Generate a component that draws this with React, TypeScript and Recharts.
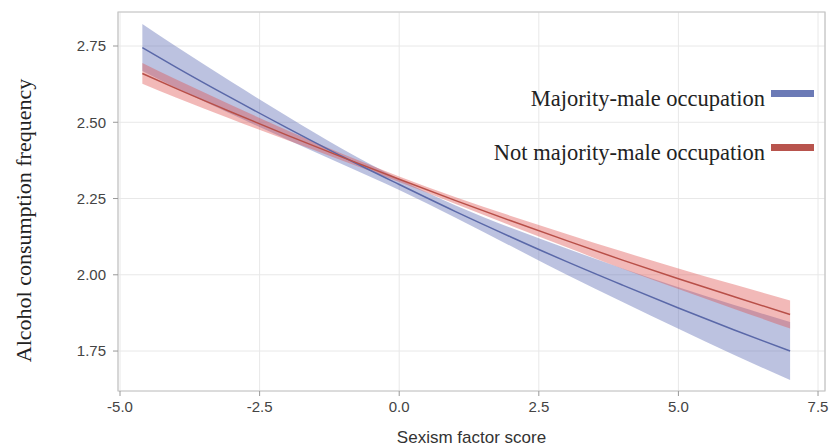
import React from "react";
import {
  Area,
  CartesianGrid,
  ComposedChart,
  Label,
  Line,
  ReferenceArea,
  XAxis,
  YAxis,
} from "recharts";

// sexism factor score sampled along the fitted curves
const scores = [-4.6, -4, -3, -2, -1, 0, 1, 2, 3, 4, 5, 6, 7];

// majority-male occupation: fitted value and 95% band
const maleFit = [2.745, 2.681, 2.579, 2.481, 2.386, 2.296, 2.208, 2.124, 2.043, 1.966, 1.891, 1.819, 1.75];
const maleLow = [2.668, 2.613, 2.526, 2.443, 2.361, 2.278, 2.188, 2.094, 2.0, 1.911, 1.823, 1.737, 1.655];
const maleHigh = [2.822, 2.749, 2.632, 2.519, 2.411, 2.314, 2.228, 2.154, 2.086, 2.021, 1.959, 1.901, 1.845];

// not majority-male occupation
const otherFit = [2.66, 2.611, 2.533, 2.457, 2.384, 2.313, 2.244, 2.177, 2.112, 2.048, 1.987, 1.928, 1.87];
const otherLow = [2.626, 2.581, 2.51, 2.441, 2.373, 2.304, 2.233, 2.161, 2.09, 2.02, 1.953, 1.888, 1.824];
const otherHigh = [2.694, 2.641, 2.556, 2.473, 2.395, 2.322, 2.255, 2.193, 2.134, 2.076, 2.021, 1.968, 1.916];

const xTicks = [-5, -2.5, 0, 2.5, 5, 7.5];
const yTicks = [1.75, 2.0, 2.25, 2.5, 2.75];

const seriesNames = ["Majority-male occupation", "Not majority-male occupation"];
const swatchColors = ["#6b7ab6", "#b8544d"];

const xDomain: [number, number] = [-5.036, 7.625];
const yDomain: [number, number] = [1.619, 2.8615];

const rows = scores.map((x, i) => ({
  x,
  male: maleFit[i],
  maleBand: [maleLow[i], maleHigh[i]],
  other: otherFit[i],
  otherBand: [otherLow[i], otherHigh[i]],
}));

const sans = "'Liberation Sans', Arial, sans-serif";
const serif = "'Liberation Serif', 'Times New Roman', serif";

function LegendBox() {
  return (
    <div style={{ position: "absolute", top: 88, right: 18, fontFamily: serif, fontSize: 22.5, color: "#222" }}>
      {seriesNames.map((name, i) => (
        <div key={name} style={{ display: "flex", justifyContent: "flex-end", alignItems: "flex-start", height: 54 }}>
          <span style={{ lineHeight: "22px", whiteSpace: "nowrap" }}>{name}</span>
          <span style={{ display: "inline-block", width: 43, height: 7, marginLeft: 6, marginTop: 2, background: swatchColors[i] }} />
        </div>
      ))}
    </div>
  );
}

function YTitle({ viewBox }: any) {
  const cx = viewBox.x + 23;
  const cy = viewBox.y + viewBox.height / 2 + 19;
  return (
    <text x={cx} y={cy} transform={`rotate(-90 ${cx} ${cy})`} textAnchor="middle" dominantBaseline="central"
      style={{ fontFamily: serif, fontSize: 22, fill: "#222" }}>
      Alcohol consumption frequency
    </text>
  );
}

export default function App() {
  return (
    <div style={{ position: "absolute", left: 0, top: 0, width: 832, height: 448 }}>
      <ComposedChart width={832} height={448} data={rows} margin={{ top: 12, right: 7, bottom: 0, left: 0 }}>
        <CartesianGrid stroke="#e8e8e8" />
        <XAxis
          type="number"
          dataKey="x"
          domain={xDomain}
          ticks={xTicks}
          allowDataOverflow
          height={57}
          axisLine={false}
          tickLine={{ stroke: "#999" }}
          tickSize={5}
          tickMargin={5}
          tickFormatter={(v: number) => v.toFixed(1)}
          tick={{ fontFamily: sans, fontSize: 15, fill: "#444" }}
        >
          <Label value="Sexism factor score" position="insideBottom" offset={5}
            style={{ fontFamily: sans, fontSize: 17, fill: "#333" }} />
        </XAxis>
        <YAxis
          type="number"
          domain={yDomain}
          ticks={yTicks}
          allowDataOverflow
          width={118}
          axisLine={false}
          tickLine={{ stroke: "#999" }}
          tickSize={5}
          tickMargin={7}
          tickFormatter={(v: number) => v.toFixed(2)}
          tick={{ fontFamily: sans, fontSize: 15, fill: "#444" }}
        >
          <Label content={<YTitle />} />
        </YAxis>
        <ReferenceArea x1={xDomain[0]} x2={xDomain[1]} y1={yDomain[0]} y2={yDomain[1]}
          fill="none" stroke="#c4c4c4" strokeWidth={1.2} />
        <Area type="monotone" dataKey="maleBand" stroke="none" fill="#5766b1" fillOpacity={0.4}
          legendType="none" isAnimationActive={false} />
        <Area type="monotone" dataKey="otherBand" stroke="none" fill="#de504d" fillOpacity={0.4}
          legendType="none" isAnimationActive={false} />
        <Line type="monotone" dataKey="male" name={seriesNames[0]} stroke="#5a68a8" strokeWidth={1.5}
          dot={false} isAnimationActive={false} />
        <Line type="monotone" dataKey="other" name={seriesNames[1]} stroke="#b84f48" strokeWidth={1.5}
          dot={false} isAnimationActive={false} />
      </ComposedChart>
      <LegendBox />
    </div>
  );
}
